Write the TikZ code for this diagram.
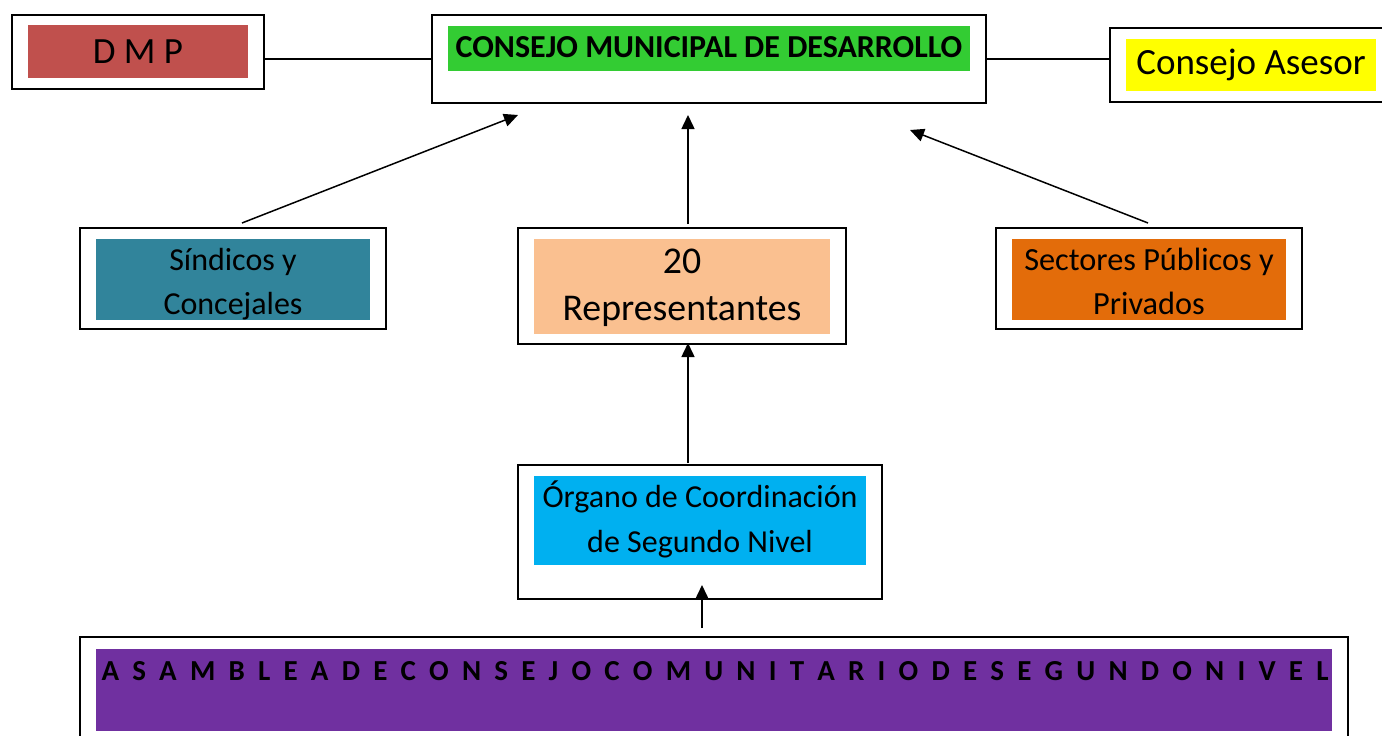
\documentclass[tikz,border=0pt]{standalone}
\usepackage{fontspec}
\setmainfont{Carlito}
\usetikzlibrary{arrows.meta}
\definecolor{cdmp}{HTML}{C0504D}
\definecolor{ccmd}{HTML}{33CC33}
\definecolor{case}{HTML}{FFFF00}
\definecolor{csin}{HTML}{31849B}
\definecolor{crep}{HTML}{FAC090}
\definecolor{csec}{HTML}{E36C0A}
\definecolor{corg}{HTML}{00B0F0}
\definecolor{casa}{HTML}{7030A0}
\tikzset{
  outerbox/.style={draw=black, line width=2pt, inner sep=0pt},
  innerbox/.style={inner sep=0pt},
  label text/.style={inner sep=0pt, align=center, text=black},
  link/.style={line width=1.5pt},
  arr/.style={line width=1.5pt, -{Triangle[length=14pt,width=13pt]}}
}
\begin{document}
\begin{tikzpicture}[x=1pt,y=-1pt]
\useasboundingbox (0,0) rectangle (1382,736);
\clip (0,0) rectangle (1382,736);
% outer boxes
\node[outerbox, minimum width=252pt, minimum height=74pt] (dmp) at (138,52) {};
\node[outerbox, minimum width=554pt, minimum height=88pt] (cmd) at (709,59) {};
\node[outerbox, minimum width=280pt, minimum height=74pt] (ase) at (1250,65) {};
\node[outerbox, minimum width=306pt, minimum height=101pt] (sin) at (233,278.5) {};
\node[outerbox, minimum width=328pt, minimum height=116pt] (rep) at (682,286) {};
\node[outerbox, minimum width=306pt, minimum height=101pt] (sec) at (1149,278.5) {};
\node[outerbox, minimum width=364pt, minimum height=134pt] (org) at (700,532) {};
\node[outerbox, minimum width=1268pt, minimum height=113pt] (asa) at (714,693.5) {};
% inner coloured boxes
\node[innerbox, fill=cdmp, minimum width=220pt, minimum height=53pt] (dmpin) at (138,51.5) {};
\node[innerbox, fill=ccmd, minimum width=522pt, minimum height=45pt] (cmdin) at (709,48.5) {};
\node[innerbox, fill=case, minimum width=250pt, minimum height=52pt] (asein) at (1251,65) {};
\node[innerbox, fill=csin, minimum width=274pt, minimum height=81pt] (sinin) at (233,279.5) {};
\node[innerbox, fill=crep, minimum width=296pt, minimum height=95pt] (repin) at (682,286.5) {};
\node[innerbox, fill=csec, minimum width=274pt, minimum height=81pt] (secin) at (1149,279.5) {};
\node[innerbox, fill=corg, minimum width=332pt, minimum height=89pt] (orgin) at (700,520.5) {};
\node[innerbox, fill=casa, minimum width=1236pt, minimum height=82pt] (asain) at (714,690) {};
% texts
\node[label text, font=\fontsize{37}{44}\selectfont] (dmptext) at (138,51.5) {D M P};
\node[label text, font=\fontsize{32}{38}\selectfont\bfseries] (cmdtext) at (709,47.5) {CONSEJO MUNICIPAL DE DESARROLLO};
\node[label text, font=\fontsize{37}{44}\selectfont] (asetext) at (1251,65) {Consejo Asesor};
\node[label text, font=\fontsize{32}{44}\selectfont] (sintext) at (233,284) {Síndicos y\\Concejales};
\node[label text, font=\fontsize{37.8}{47}\selectfont] (reptext) at (682,288) {20\\Representantes};
\node[label text, font=\fontsize{32.3}{44}\selectfont] (sectext) at (1149,281.5) {Sectores Públicos y\\Privados};
\node[label text, font=\fontsize{32}{45}\selectfont] (orgtext) at (700,519.5) {Órgano de Coordinación\\de Segundo Nivel};
\node[inner sep=0pt, anchor=north, font=\fontsize{29}{34}\selectfont\bfseries] (asatext) at (715,661) {\makebox[1227pt][s]{A S A M B L E A D E C O N S E J O C O M U N I T A R I O D E S E G U N D O N I V E L}};
% horizontal links
\draw[link] (dmp.east |- cmd.west) -- (cmd.west);
\draw[link] (cmd.east) -- (ase.west |- cmd.east);
% arrows
\coordinate (s1) at (242,223); \coordinate (e1) at (518,115);
\coordinate (s2) at (688,224); \coordinate (e2) at (688,115);
\coordinate (s3) at (1148,223); \coordinate (e3) at (910,130);
\coordinate (s4) at (688,463); \coordinate (e4) at (688,343);
\coordinate (s5) at (702,628); \coordinate (e5) at (702,585);
\draw[arr] (s1) -- (e1);
\draw[arr] (s2) -- (e2);
\draw[arr] (s3) -- (e3);
\draw[arr] (s4) -- (e4);
\draw[arr] (s5) -- (e5);
\end{tikzpicture}
\end{document}
